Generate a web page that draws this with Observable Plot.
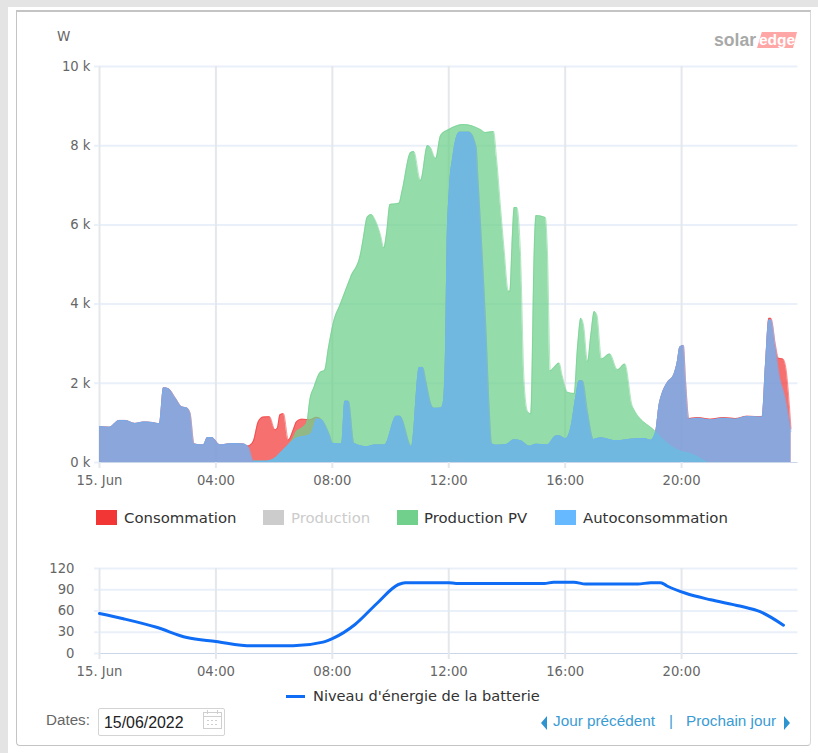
<!DOCTYPE html>
<html lang="fr">
<head>
<meta charset="utf-8">
<script src="https://cdn.jsdelivr.net/npm/d3@7"></script>
<script src="https://cdn.jsdelivr.net/npm/@observablehq/plot@0.6"></script>
<style>
html,body{margin:0;padding:0;background:#fafafa;}
#page{position:relative;width:818px;height:753px;overflow:hidden;font-family:"DejaVu Sans",sans-serif;}
#top{position:absolute;left:0;top:0;width:818px;height:7px;background:#e4e4e4;}
#left{position:absolute;left:0;top:0;width:8px;height:753px;background:#e4e4e4;}
#white{position:absolute;left:8px;top:7px;width:810px;height:746px;background:#fff;}
#panel{position:absolute;left:16px;top:10px;width:795px;height:736px;box-sizing:border-box;border:1px solid #c4c4c4;border-right-color:#d8d8d8;border-top-width:2px;border-radius:0 0 4px 4px;background:#fff;}
svg.chart{position:absolute;left:0;}
.abs{position:absolute;white-space:nowrap;}
.sw{position:absolute;width:21px;height:15px;top:510px;}
.lg{position:absolute;top:509px;font-size:14.9px;line-height:18px;color:#333;white-space:nowrap;}
.ln{font-family:"Liberation Sans",sans-serif;font-size:15.3px;color:#3b9bd3;top:712px;line-height:18px;}
#logo-a{left:714px;top:30px;font:bold 17.6px/20px "Liberation Sans",sans-serif;color:#a9a9a9;}
#logo-b{left:757px;top:32px;width:40px;height:16px;background:#ffa6a6;clip-path:polygon(12% 0,100% 0,90% 100%,0 100%);color:#fff;font:bold 15.5px/15px "Liberation Sans",sans-serif;text-align:center;}
#box{left:98px;top:708px;width:127px;height:28px;box-sizing:border-box;border:1px solid #d4d4d4;border-radius:2px;background:#fff;}
</style>
</head>
<body>
<div id="page">
<div id="top"></div><div id="left"></div><div id="white"></div><div id="panel"></div>
<div class="abs" id="logo-a">solar</div>
<div class="abs" id="logo-b">edge</div>
<div class="abs" style="left:57px;top:28px;font-size:13.5px;line-height:16px;color:#666;">W</div>

<div class="sw" style="left:96px;background:#f23535;"></div>
<div class="lg" style="left:124px;">Consommation</div>
<div class="sw" style="left:263px;background:#cccccc;"></div>
<div class="lg" style="left:291px;color:#cccccc;">Production</div>
<div class="sw" style="left:397px;background:#70d08c;"></div>
<div class="lg" style="left:424px;">Production PV</div>
<div class="sw" style="left:555px;background:#66b8ff;"></div>
<div class="lg" style="left:583px;">Autoconsommation</div>

<div class="abs" style="left:286px;top:695px;width:19px;height:3px;background:#0f6cf5;"></div>
<div class="abs" style="left:313px;top:687px;font-size:14.6px;line-height:18px;color:#333;">Niveau d'énergie de la batterie</div>

<div class="abs" style="left:46px;top:711px;font:15.2px/18px 'Liberation Sans',sans-serif;color:#666;">Dates:</div>
<div class="abs" id="box"></div>
<div class="abs" style="left:104px;top:714px;font:15.9px/18px 'Liberation Sans',sans-serif;color:#222;">15/06/2022</div>
<svg class="abs" style="left:202px;top:709px;" width="22" height="22" viewBox="0 0 22 22" fill="none" stroke="#cfcfcf">
  <rect x="1.5" y="3.5" width="18" height="16"/><line x1="1.5" y1="7.5" x2="19.5" y2="7.5"/>
  <line x1="5.5" y1="1" x2="5.5" y2="5"/><line x1="15.5" y1="1" x2="15.5" y2="5"/>
  <line x1="5" y1="11.5" x2="16" y2="11.5" stroke-dasharray="2 2"/><line x1="5" y1="15.5" x2="16" y2="15.5" stroke-dasharray="2 2"/>
</svg>
<svg class="abs" style="left:541px;top:716px;" width="7" height="14"><polygon points="6,0 6,14 0,7" fill="#2d94cf"/></svg>
<div class="abs ln" style="left:553px;">Jour précédent</div>
<div class="abs ln" style="left:669px;">|</div>
<div class="abs ln" style="left:686px;">Prochain jour</div>
<svg class="abs" style="left:784px;top:716px;" width="7" height="14"><polygon points="0,0 0,14 6,7" fill="#2d94cf"/></svg>
</div>

<script>
// Heures de la journée du 15 juin 2022 et puissance en W
const consoH = [0,.34,.68,.88,1.22,1.51,1.8,2.06,2.2,2.37,2.6,2.83,3,3.11,3.25,3.57,3.71,3.86,4.14,4.54,4.94,5.11,5.28,5.46,5.63,5.84,6.03,6.11,6.2,6.32,6.49,6.66,6.77,6.95,7.23,7.46,7.63,7.8,7.92,8,8.32,8.43,8.55,8.74,9.18,9.46,9.8,10.2,10.32,10.72,10.99,11.1,11.22,11.39,11.5,11.74,11.82,11.89,11.94,12.02,12.14,12.37,12.7,12.94,13,13.14,13.28,13.39,13.47,13.62,13.97,14.25,14.48,14.77,15,15.39,15.68,15.79,16.02,16.19,16.37,16.48,16.59,16.77,16.97,17.22,17.74,18.25,18.71,18.94,19.11,19.22,19.34,19.51,19.74,19.85,19.94,20.06,20.14,20.25,20.54,20.99,21.45,21.85,22.25,22.77,22.88,23,23.07,23.23,23.33,23.48,23.57,23.76];
const consoW = [910,893,1063,1063,987,1021,1013,979,1889,1864,1634,1404,1379,1251,468,443,630,630,443,477,468,417,528,1038,1149,1157,825,868,1208,1234,570,830,1030,1095,1080,1140,1081,868,655,485,468,1549,1549,485,400,443,443,1166,1166,400,2400,2400,2017,1461,1367,1376,1547,2870,5353,6868,7710,8340,8340,7960,7204,5353,3300,1333,479,436,453,573,547,410,461,444,667,675,598,863,1675,2060,2060,1248,581,624,547,590,607,564,778,1419,1761,2017,2231,2530,2915,2957,2017,1110,1135,1095,1135,1110,1170,1155,2444,3640,3640,2950,2632,2615,2444,850];

const prodH = [5.29,5.74,5.92,6.09,6.26,6.43,6.66,6.77,6.95,7.12,7.23,7.37,7.59,7.73,7.87,8.04,8.28,8.63,8.97,9.07,9.2,9.34,9.48,9.66,9.77,9.86,9.98,10.29,10.4,10.69,10.8,11.03,11.27,11.37,11.55,11.72,12,12.51,13.09,13.26,13.54,13.64,13.78,13.9,14.05,14.1,14.17,14.25,14.34,14.46,14.59,14.71,14.82,14.94,15,15.32,15.39,15.49,15.62,15.79,15.9,16.08,16.31,16.42,16.54,16.63,16.77,16.88,17,17.09,17.25,17.53,17.8,18.05,18.31,19.11,19.39,19.97,20.31,20.88];
const prodW = [34,34,60,145,272,400,613,783,868,996,1591,1902,2280,2323,2912,3543,4007,4680,5269,5689,6194,6262,6110,5732,5420,5774,6515,6548,6868,7828,7853,7120,8004,7954,7676,8257,8408,8534,8408,8332,8358,7701,6439,5400,4325,4325,5436,6439,6439,5353,2017,1290,1230,5436,6237,6186,5353,2316,2400,2512,2188,1777,1743,2871,3640,3470,2547,3213,3812,3726,2615,2743,2341,2487,1418,778,564,282,222,0];

const autoH = [0,.34,.68,.88,1.22,1.51,1.8,2.06,2.2,2.37,2.6,2.83,3,3.11,3.25,3.57,3.71,3.86,4.14,4.54,4.94,5.11,5.29,5.74,5.92,6.09,6.26,6.43,6.77,7.23,7.35,7.46,7.63,7.8,7.92,8,8.32,8.43,8.55,8.74,9.18,9.46,9.8,10.2,10.32,10.72,10.99,11.1,11.22,11.39,11.5,11.74,11.82,11.89,11.94,12.02,12.14,12.37,12.7,12.94,13,13.14,13.28,13.39,13.47,13.62,13.97,14.25,14.48,14.77,15,15.39,15.68,15.79,16.02,16.19,16.37,16.48,16.59,16.77,16.97,17.22,17.74,18.25,18.71,18.94,19.11,19.22,19.34,19.51,19.74,19.85,19.94,20.06,20.14,20.25,20.54,20.99,21.45,21.85,22.25,22.77,22.88,23,23.07,23.23,23.34,23.57,23.76];
const autoW = [910,893,1063,1063,987,1021,1013,979,1889,1864,1634,1404,1379,1251,468,443,630,630,443,477,468,400,34,34,60,145,272,400,613,698,868,1098,1081,868,655,485,468,1549,1549,485,400,443,443,1166,1166,400,2400,2400,2017,1461,1367,1376,1547,2870,5353,6868,7710,8340,8340,7960,7204,5353,3300,1333,479,436,453,573,547,410,461,444,667,675,598,863,1675,2060,2060,1248,581,624,547,590,607,564,778,1419,1761,2017,2231,2530,2915,2957,2017,1094,1120,1077,1120,1094,1162,1145,2444,3598,3598,2872,2273,1590,778];

// Niveau d'énergie de la batterie, en %
const battH = [0,.82,1.96,3,4,5.22,6.65,7.68,8,8.78,9.53,10.27,10.5,10.7,12,12.25,15.28,15.6,16.3,16.7,18.5,18.94,19.28,19.5,20.14,21,22,22.7,23.5];
const battPct = [56.5,49,37,22.6,17,10.8,10.8,16,21,41,70.6,97.4,100,100,100,98.8,98.8,100.7,100.7,98,98,100,100,95.3,85,75.8,67,59,40];

const xTicks = [0,4,8,12,16,20];
const powerTicks = [0,2000,4000,6000,8000,10000];
const battTicks = [0,30,60,90,120];
const xFmt = h => h === 0 ? "15. Jun" : String(h).padStart(2,"0") + ":00";
const kFmt = v => (v/1000) + " k";

const axisFont = {fontFamily:'"DejaVu Sans",sans-serif', fontSize:13.2, overflow:"visible"};
const gridV = "#e4e7ec", gridH = "#e9f0f9", base = "#ccd6eb", ink = "#666666";

function frame(yTicks, yFmt, extra, top, bottom, height, yDomain, yPad){
  const chart = Plot.plot({
    width:818, height,
    marginLeft:99, marginRight:20.5, marginTop:top, marginBottom:height-bottom,
    style:axisFont,
    x:{domain:[0,24]},
    y:{domain:yDomain},
    marks:[
      Plot.ruleY(yTicks.slice(1),{stroke:gridH,strokeWidth:2}),
      Plot.ruleX(xTicks,{stroke:gridV,strokeWidth:2}),
      ...extra,
      Plot.ruleY([0],{stroke:base,strokeWidth:1}),
      Plot.axisY({ticks:yTicks,tickFormat:yFmt,tickSize:5,stroke:gridH,strokeWidth:2,tickPadding:yPad,color:ink,label:null,fill:ink}),
      Plot.axisX({ticks:xTicks,tickFormat:xFmt,tickSize:6,stroke:gridV,strokeWidth:2,tickPadding:7,fill:ink,label:null})
    ]
  });
  chart.classList.add("chart");
  return chart;
}

const series = [
  {h:consoH,w:consoW,fill:"#f23333",o:.7},
  {h:prodH,w:prodW,fill:"#70d08c",o:.75},
  {h:autoH,w:autoW,fill:"#66b8ff",o:.75}
];
const powerMarks = series.flatMap(s => [
  Plot.areaY(s.w,{x:s.h,y:s.w,fill:s.fill,fillOpacity:s.o,curve:"monotone-x"}),
  Plot.lineY(s.w,{x:s.h,y:s.w,stroke:s.fill,strokeOpacity:.55,strokeWidth:1,curve:"monotone-x"})
]);

const main = frame(powerTicks,kFmt,powerMarks,66,462,500,[0,10000],4);
main.style.top = "0px";
const small = frame(battTicks,d=>d,[
  Plot.lineY(battPct,{x:battH,y:battPct,stroke:"#0f6cf5",strokeWidth:3,curve:"monotone-x"})
],18,103,125,[0,120],20);
small.style.top = "550px";
document.getElementById("page").append(main,small);
</script>
</body>
</html>
